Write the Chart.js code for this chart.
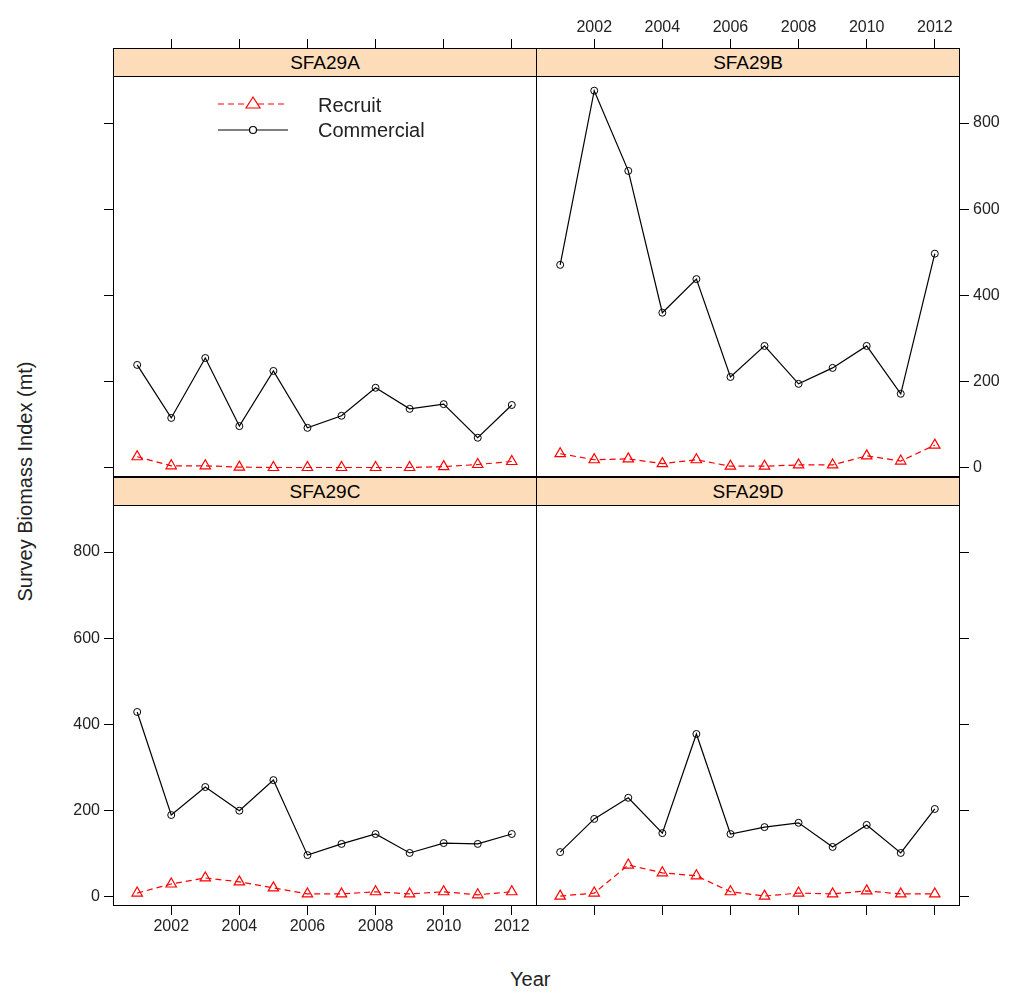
<!DOCTYPE html>
<html>
<head>
<meta charset="utf-8">
<script src="https://cdn.jsdelivr.net/npm/chart.js@4"></script>
<style>
  body { margin: 0; background: #fff; font-family: "Liberation Sans", Arial, sans-serif; }
  #wrap { position: relative; width: 1019px; height: 995px; overflow: hidden; }
  canvas.panel { position: absolute; }
  .strip { position: absolute; height: 29px; background: #fddcb9; border: 1px solid #000;
           box-sizing: border-box; text-align: center; font-size: 19px; line-height: 28px; }
  .title { position: absolute; font-size: 20px; color: #222; }
</style>
</head>
<body>
<div id="wrap">
  <div class="title" style="left:510px;top:968px;">Year</div>
  <div class="title" style="left:-105px;top:470px;transform:rotate(-90deg);width:260px;text-align:center;">Survey Biomass Index (mt)</div>
</div>
<script>
const years = [2001, 2002, 2003, 2004, 2005, 2006, 2007, 2008, 2009, 2010, 2011, 2012];
const areas = ['SFA29A', 'SFA29B', 'SFA29C', 'SFA29D'];

const recruitA = [26, 5, 5, 2, 1, 1, 1, 1, 1, 3, 8, 15];
const commercialA = [239, 116, 255, 97, 225, 93, 121, 186, 137, 148, 70, 146];
const recruitB = [33, 19, 21, 10, 19, 4, 4, 7, 7, 28, 16, 53];
const commercialB = [471, 875, 689, 360, 438, 211, 283, 195, 232, 283, 172, 497];
const recruitC = [9, 30, 44, 35, 21, 7, 7, 12, 7, 12, 5, 12];
const commercialC = [429, 190, 255, 200, 271, 97, 123, 146, 102, 125, 123, 146];
const recruitD = [2, 9, 74, 56, 49, 12, 2, 9, 7, 14, 7, 7];
const commercialD = [104, 181, 230, 148, 378, 146, 162, 172, 116, 167, 102, 204];

const xTicks = [2002, 2004, 2006, 2008, 2010, 2012];
const yTicks = [0, 200, 400, 600, 800];

const M = 70; // margin around each panel in its canvas
const panels = [
  { name: areas[0], left: 113, top: 48, rec: recruitA, com: commercialA, xPos: 'top', yPos: 'left', xLab: false, yLab: false, legend: true },
  { name: areas[1], left: 536, top: 48, rec: recruitB, com: commercialB, xPos: 'top', yPos: 'right', xLab: true, yLab: true },
  { name: areas[2], left: 113, top: 477, rec: recruitC, com: commercialC, xPos: 'bottom', yPos: 'left', xLab: true, yLab: true },
  { name: areas[3], left: 536, top: 477, rec: recruitD, com: commercialD, xPos: 'bottom', yPos: 'right', xLab: false, yLab: false }
];
const W = 424, H = 429;

const boxPlugin = {
  id: 'box',
  afterDraw(chart) {
    const a = chart.chartArea, ctx = chart.ctx;
    ctx.save();
    ctx.strokeStyle = '#000';
    ctx.lineWidth = 1;
    ctx.strokeRect(a.left + 0.5, a.top + 0.5, a.right - a.left - 1, a.bottom - a.top - 1);
    ctx.restore();
  }
};

const legendPlugin = {
  id: 'lattLegend',
  afterDraw(chart) {
    if (!chart.options.plugins.lattLegend.show) return;
    const ctx = chart.ctx;
    const ox = M - 113, oy = M - 48; // page -> canvas offset
    ctx.save();
    ctx.font = '20px "Liberation Sans", Arial';
    ctx.textBaseline = 'middle';
    ctx.strokeStyle = 'red'; ctx.lineWidth = 1.2;
    ctx.setLineDash([6, 4]);
    ctx.beginPath(); ctx.moveTo(218 + ox, 104 + oy); ctx.lineTo(288 + ox, 104 + oy); ctx.stroke();
    ctx.setLineDash([]);
    ctx.beginPath();
    ctx.moveTo(253 + ox, 97 + oy); ctx.lineTo(260 + ox, 108 + oy); ctx.lineTo(246 + ox, 108 + oy); ctx.closePath();
    ctx.fillStyle = '#fff'; ctx.fill(); ctx.stroke();
    ctx.fillStyle = '#222'; ctx.fillText('Recruit', 318 + ox, 106 + oy);
    ctx.strokeStyle = '#000';
    ctx.beginPath(); ctx.moveTo(218 + ox, 130 + oy); ctx.lineTo(288 + ox, 130 + oy); ctx.stroke();
    ctx.beginPath(); ctx.arc(253 + ox, 130 + oy, 3.5, 0, Math.PI * 2); ctx.fillStyle = '#fff'; ctx.fill(); ctx.stroke();
    ctx.fillStyle = '#222'; ctx.fillText('Commercial', 318 + ox, 131 + oy);
    ctx.restore();
  }
};

const wrap = document.getElementById('wrap');
panels.forEach(p => {
  const cv = document.createElement('canvas');
  cv.className = 'panel';
  cv.style.left = (p.left - M) + 'px';
  cv.style.top = (p.top - M) + 'px';
  cv.width = W + 2 * M;
  cv.height = H + 2 * M;
  wrap.appendChild(cv);

  const strip = document.createElement('div');
  strip.className = 'strip';
  strip.style.left = p.left + 'px';
  strip.style.top = p.top + 'px';
  strip.style.width = W + 'px';
  strip.textContent = p.name;
  wrap.appendChild(strip);

  const pad = { left: p.yPos === 'left' ? 0 : M, right: p.yPos === 'right' ? 0 : M,
                top: p.xPos === 'top' ? 0 : M, bottom: p.xPos === 'bottom' ? 0 : M };

  new Chart(cv.getContext('2d'), {
    type: 'line',
    data: {
      datasets: [
        { label: 'Recruit', data: years.map((y, i) => ({ x: y, y: p.rec[i] })),
          borderColor: 'red', borderWidth: 1.2, borderDash: [6, 4], pointStyle: 'triangle',
          pointRadius: 6, pointBorderColor: 'red', pointBackgroundColor: 'rgba(0,0,0,0)', pointBorderWidth: 1.2 },
        { label: 'Commercial', data: years.map((y, i) => ({ x: y, y: p.com[i] })),
          borderColor: '#000', borderWidth: 1.2, pointStyle: 'circle',
          pointRadius: 3.5, pointBorderColor: '#000', pointBackgroundColor: 'rgba(0,0,0,0)', pointBorderWidth: 1 }
      ]
    },
    options: {
      animation: false, responsive: false, devicePixelRatio: 1,
      layout: { padding: pad },
      plugins: { legend: { display: false }, tooltip: { enabled: false }, lattLegend: { show: !!p.legend } },
      scales: {
        x: {
          type: 'linear', position: p.xPos, min: 2000.29, max: 2012.74,
          afterBuildTicks: s => { s.ticks = xTicks.map(v => ({ value: v })); },
          afterFit: s => { s.height = M; },
          grid: { drawOnChartArea: false, tickLength: 9, color: '#000' },
          border: { display: false },
          ticks: { color: '#222', font: { size: 16, family: '"Liberation Sans", Arial' },
                   maxRotation: 0, autoSkip: false, padding: 2,
                   callback: v => p.xLab ? String(v) : '' }
        },
        y: {
          type: 'linear', position: p.yPos, min: -21, max: 974,
          afterBuildTicks: s => { s.ticks = yTicks.map(v => ({ value: v })); },
          afterFit: s => { s.width = M; },
          grid: { drawOnChartArea: false, tickLength: 9, color: '#000' },
          border: { display: false },
          ticks: { color: '#222', font: { size: 16, family: '"Liberation Sans", Arial' },
                   padding: 4, callback: v => p.yLab ? String(v) : '' }
        }
      }
    },
    plugins: [boxPlugin, legendPlugin]
  });
});
</script>
</body>
</html>
